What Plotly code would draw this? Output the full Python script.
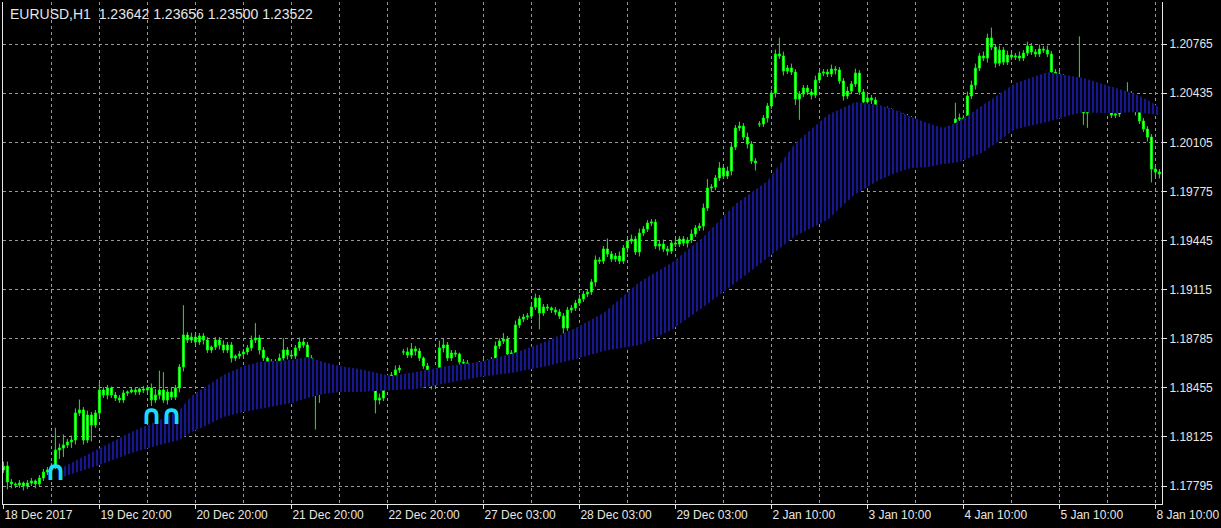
import plotly.graph_objects as go

# ---------------- data ----------------
first_open = 1.17903
closes = [
    1.17929, 1.17822, 1.17809, 1.17802, 1.17815, 1.17795, 1.17815, 1.17829, 1.17809, 1.17849,
    1.17889, 1.17903, 1.17929, 1.18037, 1.18050, 1.18071, 1.18091, 1.18104, 1.18286, 1.18306,
    1.18104, 1.18272, 1.18205, 1.18286, 1.18440, 1.18407, 1.18454, 1.18407, 1.18386, 1.18373,
    1.18420, 1.18427, 1.18440, 1.18427, 1.18447, 1.18440, 1.18454, 1.18373, 1.18407, 1.18440,
    1.18373, 1.18427, 1.18393, 1.18454, 1.18595, 1.18810, 1.18776, 1.18796, 1.18763, 1.18803,
    1.18776, 1.18709, 1.18729, 1.18776, 1.18743, 1.18709, 1.18743, 1.18655, 1.18669, 1.18682,
    1.18696, 1.18723, 1.18776, 1.18790, 1.18709, 1.18655, 1.18628, 1.18602, 1.18628, 1.18655,
    1.18709, 1.18675, 1.18669, 1.18723, 1.18763, 1.18743, 1.18655, 1.18555, 1.18454, 1.18481,
    1.18487, 1.18474, 1.18494, 1.18481, 1.18534, 1.18561, 1.18507, 1.18521, 1.18494, 1.18521,
    1.18507, 1.18528, 1.18507, 1.18373, 1.18386, 1.18521, 1.18507, 1.18541, 1.18575, 1.18588,
    1.18696, 1.18675, 1.18716, 1.18702, 1.18655, 1.18602, 1.18521, 1.18474, 1.18548, 1.18723,
    1.18743, 1.18655, 1.18689, 1.18682, 1.18628, 1.18622, 1.18602, 1.18588, 1.18602, 1.18615,
    1.18628, 1.18635, 1.18642, 1.18736, 1.18769, 1.18783, 1.18682, 1.18689, 1.18877, 1.18917,
    1.18931, 1.18937, 1.18998, 1.19058, 1.18958, 1.18998, 1.18991, 1.18978, 1.18964, 1.18937,
    1.18857, 1.18978, 1.18991, 1.19025, 1.19052, 1.19085, 1.19099, 1.19166, 1.19314, 1.19307,
    1.19388, 1.19354, 1.19321, 1.19341, 1.19307, 1.19394, 1.19441, 1.19455, 1.19368, 1.19495,
    1.19522, 1.19562, 1.19569, 1.19408, 1.19421, 1.19388, 1.19374, 1.19428, 1.19421, 1.19455,
    1.19428, 1.19448, 1.19489, 1.19529, 1.19542, 1.19663, 1.19798, 1.19804, 1.19865, 1.19932,
    1.19878, 1.19912, 1.20073, 1.20201, 1.20214, 1.20140, 1.20093, 1.19979, 1.19966, 1.20228,
    1.20268, 1.20349, 1.20436, 1.20698, 1.20685, 1.20584, 1.20604, 1.20577, 1.20396, 1.20429,
    1.20470, 1.20443, 1.20423, 1.20523, 1.20570, 1.20577, 1.20564, 1.20597, 1.20591, 1.20517,
    1.20416, 1.20449, 1.20497, 1.20570, 1.20443, 1.20376, 1.20403, 1.20389, 1.20174, 1.20147,
    1.20214, 1.20315, 1.20174, 1.20214, 1.20281, 1.20275, 1.20261, 1.20161, 1.20134, 1.20127,
    1.20113, 1.20107, 1.20093, 1.20080, 1.20161, 1.20147, 1.20167, 1.20181, 1.20261, 1.20268,
    1.20255, 1.20416, 1.20490, 1.20604, 1.20685, 1.20671, 1.20806, 1.20745, 1.20637, 1.20725,
    1.20644, 1.20691, 1.20678, 1.20685, 1.20671, 1.20705, 1.20752, 1.20712, 1.20698, 1.20732,
    1.20725, 1.20698, 1.20577, 1.20564, 1.20544, 1.20470, 1.20456, 1.20510, 1.20483, 1.20497,
    1.20302, 1.20342, 1.20369, 1.20449, 1.20443, 1.20449, 1.20416, 1.20288, 1.20295, 1.20362,
    1.20416, 1.20429, 1.20349, 1.20315, 1.20248, 1.20194, 1.20140, 1.19925, 1.19905, 1.19892,
]
# bars that opened with a gap (open given explicitly)
gap_opens = {100: 1.18696, 189: 1.20228}

# upper / lower shadows beyond the body, in pips
wick_up = [
    3, 3, 2, 1, 2, 1, 2, 2, 1, 2,
    2, 2, 2, 15, 3, 7, 2, 3, 3, 7,
    2, 3, 2, 2, 5, 2, 2, 1, 2, 2,
    2, 1, 2, 2, 1, 2, 2, 3, 4, 13,
    12, 2, 3, 2, 2, 20, 2, 3, 2, 2,
    2, 2, 1, 2, 2, 3, 2, 2, 1, 2,
    2, 2, 3, 10, 2, 2, 1, 2, 2, 3,
    8, 2, 2, 2, 3, 2, 2, 2, 1, 2,
    2, 1, 2, 2, 2, 3, 2, 2, 1, 2,
    2, 2, 1, 2, 3, 2, 2, 2, 3, 2,
    2, 3, 4, 2, 2, 1, 2, 2, 3, 5,
    4, 2, 2, 2, 1, 2, 2, 1, 2, 2,
    2, 1, 2, 3, 2, 4, 2, 2, 3, 2,
    2, 2, 3, 3, 2, 2, 2, 1, 2, 2,
    2, 2, 2, 2, 3, 2, 2, 2, 3, 2,
    2, 7, 2, 2, 3, 2, 2, 3, 2, 3,
    2, 2, 2, 2, 2, 3, 2, 2, 3, 2,
    2, 2, 3, 2, 2, 3, 6, 2, 2, 4,
    2, 3, 3, 2, 3, 2, 3, 2, 2, 2,
    2, 2, 2, 3, 11, 3, 2, 3, 2, 2,
    2, 2, 2, 3, 2, 2, 2, 3, 2, 2,
    2, 3, 2, 3, 2, 2, 2, 2, 2, 2,
    2, 3, 2, 2, 3, 2, 2, 2, 1, 2,
    1, 2, 1, 2, 2, 2, 3, 2, 11, 3,
    2, 3, 3, 3, 2, 3, 3, 7, 2, 3,
    2, 3, 2, 2, 3, 2, 3, 2, 2, 3,
    2, 3, 2, 2, 3, 2, 2, 3, 2, 32,
    2, 2, 2, 3, 2, 2, 2, 2, 2, 3,
    3, 8, 2, 2, 2, 2, 2, 2, 3, 2,
]
wick_dn = [
    2, 5, 3, 2, 2, 3, 2, 2, 3, 2,
    2, 2, 3, 2, 6, 6, 2, 4, 3, 2,
    3, 2, 11, 2, 2, 2, 3, 2, 2, 2,
    2, 2, 1, 2, 2, 2, 3, 4, 2, 3,
    2, 3, 2, 2, 3, 3, 2, 2, 2, 2,
    3, 2, 2, 2, 3, 2, 2, 3, 2, 2,
    2, 2, 2, 2, 3, 2, 2, 2, 2, 2,
    2, 3, 2, 2, 2, 2, 3, 3, 28, 10,
    2, 2, 2, 2, 2, 3, 2, 2, 2, 2,
    2, 2, 2, 9, 3, 2, 2, 2, 2, 2,
    2, 2, 2, 3, 2, 2, 3, 3, 2, 2,
    3, 2, 2, 2, 2, 2, 2, 2, 2, 2,
    2, 2, 2, 3, 2, 2, 3, 2, 2, 2,
    2, 2, 2, 2, 11, 2, 2, 2, 2, 2,
    5, 2, 2, 2, 2, 2, 2, 2, 3, 2,
    2, 2, 2, 2, 2, 2, 3, 2, 2, 3,
    2, 2, 2, 2, 3, 2, 3, 2, 2, 2,
    2, 3, 2, 2, 2, 3, 2, 2, 2, 2,
    2, 2, 3, 2, 2, 2, 3, 2, 5, 2,
    2, 3, 2, 3, 2, 3, 2, 2, 4, 14,
    2, 2, 3, 2, 2, 2, 2, 2, 3, 2,
    3, 2, 2, 2, 2, 2, 2, 3, 4, 2,
    3, 2, 3, 2, 2, 2, 2, 2, 2, 2,
    2, 2, 2, 2, 2, 2, 2, 2, 2, 2,
    2, 2, 2, 3, 2, 2, 3, 2, 3, 2,
    2, 2, 2, 2, 2, 2, 2, 2, 2, 2,
    2, 2, 2, 2, 2, 3, 2, 2, 2, 2,
    8, 10, 2, 2, 2, 2, 3, 2, 2, 2,
    2, 2, 2, 3, 2, 2, 3, 9, 3, 3,
]

# cloud (two moving-average borders) read at anchor bars
cloud_bar = [14, 24, 32, 39, 44, 47, 50, 55, 60, 64, 72, 76, 80, 84, 89, 93, 97, 103,
             111, 119, 127, 136, 144, 150, 159, 167, 175, 183, 191, 198, 206, 213, 219,
             223, 227, 231, 235, 239, 245, 253, 261, 266, 270, 274, 279, 283, 287, 289]
cloud_top = [1.17909, 1.18050, 1.18158, 1.18239, 1.18306, 1.18400, 1.18454, 1.18541,
             1.18602, 1.18628, 1.18642, 1.18662, 1.18628, 1.18602, 1.18581, 1.18555,
             1.18534, 1.18561, 1.18602, 1.18628, 1.18682, 1.18770, 1.18870, 1.18958,
             1.19166, 1.19294, 1.19468, 1.19690, 1.19845, 1.20100, 1.20288, 1.20376,
             1.20355, 1.20322, 1.20275, 1.20234, 1.20201, 1.20248, 1.20355, 1.20503,
             1.20577, 1.20557, 1.20537, 1.20503, 1.20463, 1.20429, 1.20376, 1.20335]
cloud_bot = [1.17849, 1.17936, 1.18017, 1.18071, 1.18104, 1.18158, 1.18192, 1.18259,
             1.18292, 1.18313, 1.18353, 1.18386, 1.18413, 1.18427, 1.18427, 1.18434,
             1.18440, 1.18447, 1.18487, 1.18528, 1.18555, 1.18602, 1.18655, 1.18702,
             1.18743, 1.18843, 1.18998, 1.19159, 1.19327, 1.19475, 1.19583, 1.19757,
             1.19851, 1.19898, 1.19932, 1.19939, 1.19959, 1.19972, 1.20040, 1.20194,
             1.20241, 1.20282, 1.20308, 1.20302, 1.20302, 1.20308, 1.20295, 1.20288]

# arrow signals
signal_bar = [13, 37, 42]
signal_price = [1.17882, 1.18259, 1.18259]

# axis labels
x_tick_bars = [0, 24, 48, 72, 96, 120, 144, 168, 192, 216, 240, 264, 288]
x_tick_text = ["18 Dec 2017", "19 Dec 20:00", "20 Dec 20:00", "21 Dec 20:00",
               "22 Dec 20:00", "27 Dec 03:00", "28 Dec 03:00", "29 Dec 03:00",
               "2 Jan 10:00", "3 Jan 10:00", "4 Jan 10:00", "5 Jan 10:00", "8 Jan 10:00"]
x_grid_minor = [12, 36, 60, 84, 108, 132, 156, 180, 204, 228, 252, 276]
y_tick_text = ["1.17795", "1.18125", "1.18455", "1.18785", "1.19115",
               "1.19445", "1.19775", "1.20105", "1.20435", "1.20765"]
header = "EURUSD,H1  1.23642 1.23656 1.23500 1.23522"

# ---------------- build ----------------
n = len(closes)
assert len(wick_up) == n and len(wick_dn) == n, (len(wick_up), len(wick_dn), n)
bars = list(range(n))
opens = [first_open] + closes[:-1]
for k, v in gap_opens.items():
    opens[k] = v
highs = [max(o, c) + u * 0.0001 for o, c, u in zip(opens, closes, wick_up)]
lows = [min(o, c) - d * 0.0001 for o, c, d in zip(opens, closes, wick_dn)]
y_tick_vals = [float(t) for t in y_tick_text]

FONT = "Liberation Sans, Arial, sans-serif"
TXT = "#e6e6e6"
GRID = "#9a9a9a"

fig = go.Figure()

fig.add_trace(go.Scatter(x=cloud_bar, y=cloud_bot, mode="lines",
                         line=dict(width=0, color="rgba(0,0,0,0)"),
                         hoverinfo="skip"))
fig.add_trace(go.Scatter(x=cloud_bar, y=cloud_top, mode="lines", fill="tonexty",
                         line=dict(width=0, color="rgba(0,0,0,0)"),
                         fillcolor="rgba(0,0,0,0)",
                         fillpattern=dict(shape="|", size=4, solidity=0.35,
                                          fgcolor="#2222c4", bgcolor="#00000e",
                                          fillmode="replace"),
                         hoverinfo="skip"))

fig.add_trace(go.Candlestick(
    x=bars, open=opens, high=highs, low=lows, close=closes,
    increasing=dict(line=dict(color="#00ff00", width=1), fillcolor="#a8f8a0"),
    decreasing=dict(line=dict(color="#00ff00", width=1), fillcolor="#a8f8a0"),
    whiskerwidth=0, hoverinfo="skip"))

fig.add_trace(go.Scatter(x=signal_bar, y=signal_price, mode="text",
                         text=["∩"] * len(signal_bar),
                         textfont=dict(family="DejaVu Sans", size=27, color="#19dcff",
                                       weight="bold"),
                         textposition="middle center", hoverinfo="skip"))

fig.add_annotation(xref="paper", yref="paper", x=0, y=1, xanchor="left", yanchor="top",
                   xshift=5, yshift=-2, text=header, showarrow=False,
                   font=dict(family=FONT, size=14, color=TXT))

fig.update_layout(
    width=1221, height=528, showlegend=False,
    paper_bgcolor="#000000", plot_bgcolor="#000000",
    margin=dict(l=3, r=59, t=2, b=24),
    xaxis=dict(range=[-0.1, 289.65], rangeslider=dict(visible=False),
               tickmode="array", tickvals=x_tick_bars, ticktext=x_tick_text,
               ticklabelposition="outside right",
               ticks="outside", ticklen=4, tickcolor=TXT,
               tickfont=dict(family=FONT, size=12, color=TXT),
               showgrid=True, gridcolor=GRID, griddash="3px,3px", gridwidth=1,
               minor=dict(tickvals=x_grid_minor, showgrid=True, gridcolor=GRID,
                          griddash="3px,3px", gridwidth=1, ticks=""),
               showline=True, linecolor=TXT, linewidth=1, mirror=False,
               zeroline=False, fixedrange=True),
    yaxis=dict(range=[1.17674, 1.21048], side="right",
               tickmode="array", tickvals=y_tick_vals, ticktext=y_tick_text,
               ticks="outside", ticklen=4, tickcolor=TXT,
               tickfont=dict(family=FONT, size=12, color=TXT),
               showgrid=True, gridcolor=GRID, griddash="3px,3px", gridwidth=1,
               showline=True, linecolor=TXT, linewidth=1, mirror=True,
               zeroline=False, fixedrange=True),
)

fig.write_html("out.html", config={"displayModeBar": False},
               post_script="document.body.style.margin='0px';document.body.style.overflow='hidden';")
